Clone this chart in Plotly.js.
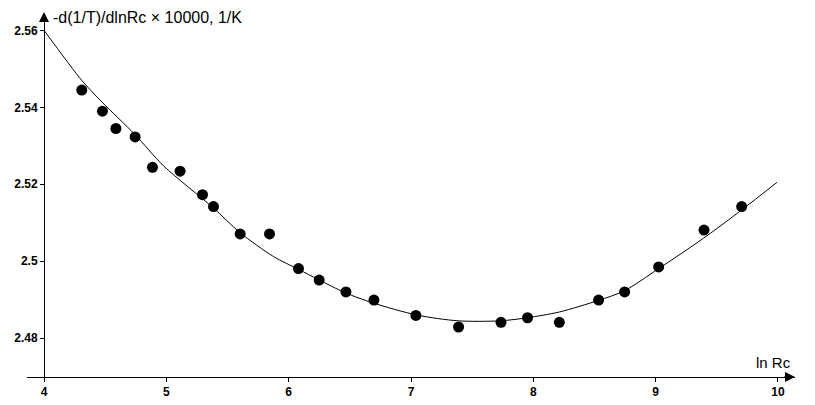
<!DOCTYPE html>
<html>
<head>
<meta charset="utf-8">
<script src="https://cdn.plot.ly/plotly-3.0.1.min.js"></script>
<style>
  html, body { margin: 0; padding: 0; background: #ffffff; }
  #chart { width: 815px; height: 405px; }
</style>
</head>
<body>
<div id="chart"></div>
<script>
// measured points: ln Rc vs -d(1/T)/dlnRc x 10000
const lnRc = [4.308, 4.477, 4.587, 4.744, 4.886, 5.112, 5.295, 5.385, 5.603, 5.843,
              6.080, 6.249, 6.468, 6.697, 7.040, 7.389, 7.736, 7.953, 8.213, 8.534,
              8.747, 9.025, 9.396, 9.704];
const slope = [2.5445, 2.5390, 2.5345, 2.5323, 2.5244, 2.5234, 2.5173, 2.5142, 2.5071, 2.5071,
               2.4981, 2.4951, 2.4920, 2.4899, 2.4859, 2.4829, 2.4841, 2.4853, 2.4841, 2.4899,
               2.4920, 2.4985, 2.5081, 2.5142];

// fitted curve
const fitX = [4.000, 4.308, 4.472, 4.744, 4.976, 5.382, 5.603, 5.876, 6.080, 6.244,
              6.462, 6.694, 7.049, 7.387, 7.730, 7.951, 8.213, 8.532, 8.744, 9.022,
              9.393, 9.707, 9.993];
const fitY = [2.5600, 2.5470, 2.5414, 2.5329, 2.5248, 2.5139, 2.5074, 2.5012, 2.4979, 2.4952,
              2.4918, 2.4891, 2.4860, 2.4845, 2.4845, 2.4853, 2.4868, 2.4898, 2.4923, 2.4980,
              2.5060, 2.5134, 2.5205];

const xTicks = [4, 5, 6, 7, 8, 9, 10];
const yTicks = [2.48, 2.5, 2.52, 2.54, 2.56];
const yTickText = ['2.48', '2.5', '2.52', '2.54', '2.56'];

const font = 'Liberation Sans, Arial, sans-serif';
const yAxisPos = 0.0221;

let data = [
    {
        x: fitX,
        y: fitY,
        mode: 'lines',
        line: {
            color: '#000000',
            width: 1,
            shape: 'spline',
            smoothing: 0.8,
        },
        hoverinfo: 'skip',
    },
    {
        x: lnRc,
        y: slope,
        mode: 'markers',
        marker: {
            color: '#000000',
            size: 11,
        },
    },
];

let layout = {
    width: 815,
    height: 405,
    margin: {l: 27, r: 20, t: 15, b: 28},
    paper_bgcolor: '#ffffff',
    plot_bgcolor: '#ffffff',
    showlegend: false,
    font: {family: font, color: '#000000'},

    xaxis: {
        range: [3.86, 10.14],
        tickvals: xTicks,
        ticktext: xTicks.map(String),
        ticks: 'outside',
        ticklen: 4,
        tickcolor: '#000000',
        tickfont: {family: font, size: 12, weight: 'bold', color: '#000000'},
        showline: true,
        linecolor: '#000000',
        linewidth: 1,
        showgrid: false,
        zeroline: false,
    },
    yaxis: {
        range: [2.4699, 2.5640],
        anchor: 'free',
        position: yAxisPos,
        tickvals: yTicks,
        ticktext: yTickText,
        ticks: 'outside',
        ticklen: 4,
        tickcolor: '#000000',
        tickfont: {family: font, size: 12, weight: 'bold', color: '#000000'},
        showline: true,
        linecolor: '#000000',
        linewidth: 1,
        showgrid: false,
        zeroline: false,
    },

    annotations: [
        {
            xref: 'paper',
            yref: 'paper',
            x: yAxisPos,
            y: 1.008,
            ax: 0,
            ay: 14,
            text: ' ',
            showarrow: true,
            arrowhead: 2,
            arrowsize: 2,
            arrowwidth: 1,
            arrowcolor: '#000000',
        },
        {
            xref: 'paper',
            yref: 'paper',
            x: 1.0,
            y: 0,
            ax: -14,
            ay: 0,
            text: ' ',
            showarrow: true,
            arrowhead: 2,
            arrowsize: 2,
            arrowwidth: 1,
            arrowcolor: '#000000',
        },
        {
            xref: 'paper',
            yref: 'paper',
            x: yAxisPos,
            y: 0.993,
            xshift: 7,
            xanchor: 'left',
            yanchor: 'middle',
            text: '-d(1/T)/dlnRc × 10000, 1/K',
            showarrow: false,
            font: {family: font, size: 16, color: '#000000'},
        },
        {
            xref: 'paper',
            yref: 'paper',
            x: 0.997,
            y: 0.01,
            xanchor: 'right',
            yanchor: 'bottom',
            text: 'ln Rc',
            showarrow: false,
            font: {family: font, size: 15, color: '#000000'},
        },
    ],
};

let config = {
    staticPlot: true,
    displayModeBar: false,
};

Plotly.newPlot(document.getElementById('chart'), data, layout, config);
</script>
</body>
</html>
